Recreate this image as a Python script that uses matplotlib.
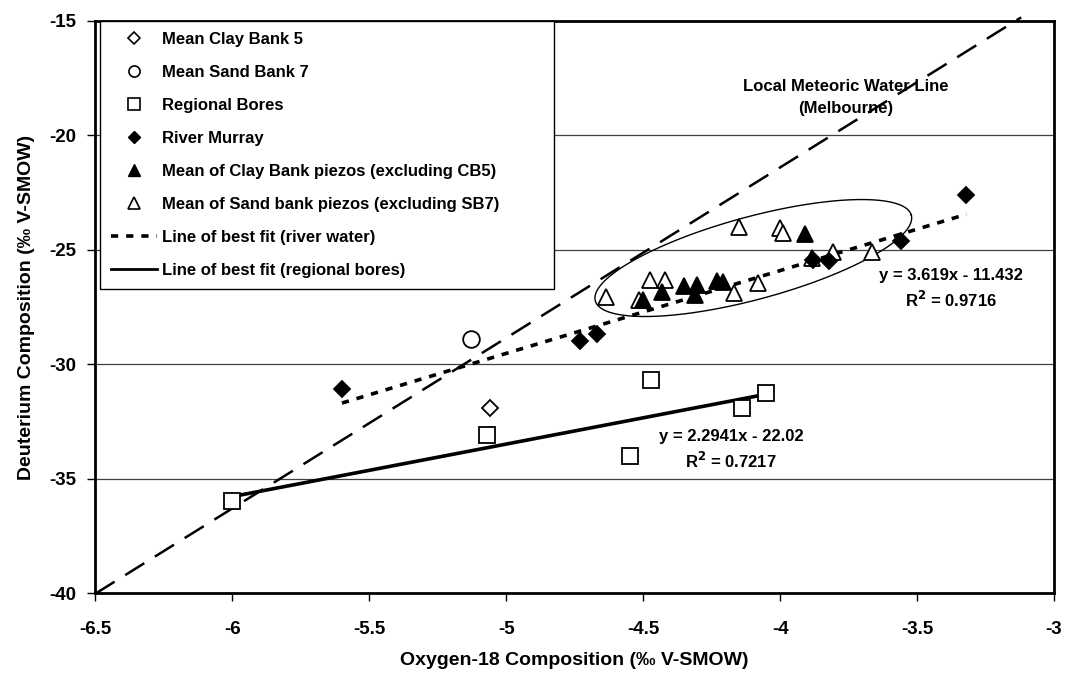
import numpy as np
import matplotlib
matplotlib.use("Agg")
import matplotlib.pyplot as plt
from matplotlib.lines import Line2D

plt.rcParams['font.family'] = ['Liberation Sans', 'DejaVu Sans']
plt.rcParams['font.weight'] = 'bold'
plt.rcParams['axes.unicode_minus'] = False

# data (permil V-SMOW)
clay5_x = [-5.06]
clay5_y = [-31.9]
sand7_x = [-5.13]
sand7_y = [-28.9]
bores_x = [-6.0, -5.07, -4.55, -4.47, -4.14, -4.05]
bores_y = [-36.0, -33.1, -34.0, -30.7, -31.9, -31.25]
river_x = [-5.6, -4.73, -4.67, -3.88, -3.82, -3.56, -3.32]
river_y = [-31.1, -29.0, -28.7, -25.45, -25.48, -24.6, -22.6]
clay_x = [-4.50, -4.43, -4.35, -4.305, -4.31, -4.23, -4.21, -3.91]
clay_y = [-27.2, -26.85, -26.6, -26.55, -26.98, -26.35, -26.4, -24.3]
sand_x = [-4.635, -4.515, -4.476, -4.42, -4.17, -4.08, -4.15, -4.0, -3.99, -3.885, -3.806, -3.666]
sand_y = [-27.05, -27.2, -26.3, -26.3, -26.9, -26.45, -24.0, -24.06, -24.28, -25.37, -25.08, -25.08]

# fitted lines as printed on the chart
river_fit = (3.619, -11.432)
bores_fit = (2.2941, -22.02)
lmwl_fit = (7.45, 8.4)
lmwl_range = (-6.5, -3.12)

xticks = [-6.5, -6, -5.5, -5, -4.5, -4, -3.5, -3]
xtick_labels = ['-6.5', '-6', '-5.5', '-5', '-4.5', '-4', '-3.5', '-3']
yticks = [-40, -35, -30, -25, -20, -15]

# ellipse round the piezometer cluster (centre, half-axis vectors in data units)
ell_c = (-4.098, -25.36)
ell_u = (0.577, 1.871)
ell_v = (-0.0394, 1.742)

fig = plt.figure(figsize=(10.68, 6.81), dpi=100)
ax = fig.add_axes([0.0894, 0.1292, 0.8975, 0.84])

for y in yticks[1:-1]:
    ax.axhline(y, color='#404040', lw=0.9, zorder=0)

# meteoric water line
lx = np.array(lmwl_range)
ax.plot(lx, lmwl_fit[0] * lx + lmwl_fit[1], color='black', lw=1.8,
        dashes=(9, 5), clip_on=False, zorder=1)

# best fit lines
rx = np.array([min(river_x), max(river_x)])
ax.plot(rx, river_fit[0] * rx + river_fit[1], color='black', lw=2.6,
        dashes=(2, 2.2), zorder=2)
bx = np.array([min(bores_x), max(bores_x)])
ax.plot(bx, bores_fit[0] * bx + bores_fit[1], color='black', lw=2.6, zorder=2)

# ellipse
t = np.linspace(0, 2 * np.pi, 300)
ex = ell_c[0] + np.cos(t) * ell_u[0] + np.sin(t) * ell_v[0]
ey = ell_c[1] + np.cos(t) * ell_u[1] + np.sin(t) * ell_v[1]
ax.plot(ex, ey, color='black', lw=1.0, zorder=2)

mk = dict(linestyle='none', markeredgecolor='black', markeredgewidth=1.3, zorder=3)
ax.plot(clay5_x, clay5_y, marker='D', ms=8, markerfacecolor='white', **mk)
ax.plot(sand7_x, sand7_y, marker='o', ms=12, markerfacecolor='white', **mk)
ax.plot(bores_x, bores_y, marker='s', ms=11.5, markerfacecolor='white', **mk)
ax.plot(sand_x, sand_y, marker='^', ms=12, markerfacecolor='white', **mk)
ax.plot(river_x, river_y, marker='D', ms=8.5, markerfacecolor='black', **mk)
ax.plot(clay_x, clay_y, marker='^', ms=12, markerfacecolor='black', **mk)

ax.set_xlim(-6.5, -3)
ax.set_ylim(-40, -15)
ax.set_xticks(xticks)
ax.set_xticklabels(xtick_labels)
ax.set_yticks(yticks)
ax.tick_params(direction='out', length=6, width=1, labelsize=13.5)
ax.tick_params(axis='x', pad=14)
ax.tick_params(axis='y', pad=8)
for s in ax.spines.values():
    s.set_linewidth(2)
    s.set_color('black')

ax.set_xlabel('Oxygen-18 Composition (‰ V-SMOW)', fontsize=14, fontweight='bold', labelpad=10)
ax.set_ylabel('Deuterium Composition (‰ V-SMOW)', fontsize=14, fontweight='bold', labelpad=10)

ax.text(-3.76, -18.35, 'Local Meteoric Water Line\n(Melbourne)', ha='center', va='center',
        fontsize=12, fontweight='bold', linespacing=1.55)
ax.text(-3.376, -26.7, 'y = 3.619x - 11.432\nR$^{\\mathbf{2}}$ = 0.9716', ha='center', va='center',
        fontsize=12, fontweight='bold', linespacing=1.4)
ax.text(-4.18, -33.75, 'y = 2.2941x - 22.02\nR$^{\\mathbf{2}}$ = 0.7217', ha='center', va='center',
        fontsize=12, fontweight='bold', linespacing=1.4)

handles = [
    Line2D([], [], marker='D', ms=6, ls='none', mfc='white', mec='black', mew=1.2),
    Line2D([], [], marker='o', ms=8, ls='none', mfc='white', mec='black', mew=1.2),
    Line2D([], [], marker='s', ms=8, ls='none', mfc='white', mec='black', mew=1.2),
    Line2D([], [], marker='D', ms=6, ls='none', mfc='black', mec='black'),
    Line2D([], [], marker='^', ms=8, ls='none', mfc='black', mec='black'),
    Line2D([], [], marker='^', ms=8, ls='none', mfc='white', mec='black', mew=1.2),
    Line2D([], [], color='black', lw=2.6, dashes=(2, 2.2)),
    Line2D([], [], color='black', lw=2),
]
labels = ['Mean Clay Bank 5', 'Mean Sand Bank 7', 'Regional Bores', 'River Murray',
          'Mean of Clay Bank piezos (excluding CB5)',
          'Mean of Sand bank piezos (excluding SB7)',
          'Line of best fit (river water)', 'Line of best fit (regional bores)']
leg = ax.legend(handles, labels, loc='upper left', bbox_to_anchor=(0.0047, 1.0, 0.474, 0),
                mode='expand', borderaxespad=0, handlelength=2.8,
                handletextpad=0.3, labelspacing=1.08, borderpad=0.65, fancybox=False,
                framealpha=1, edgecolor='black', prop={'weight': 'bold', 'size': 12})
leg.get_frame().set_linewidth(1)
leg.set_zorder(5)

fig.savefig('out.png', dpi=100)
